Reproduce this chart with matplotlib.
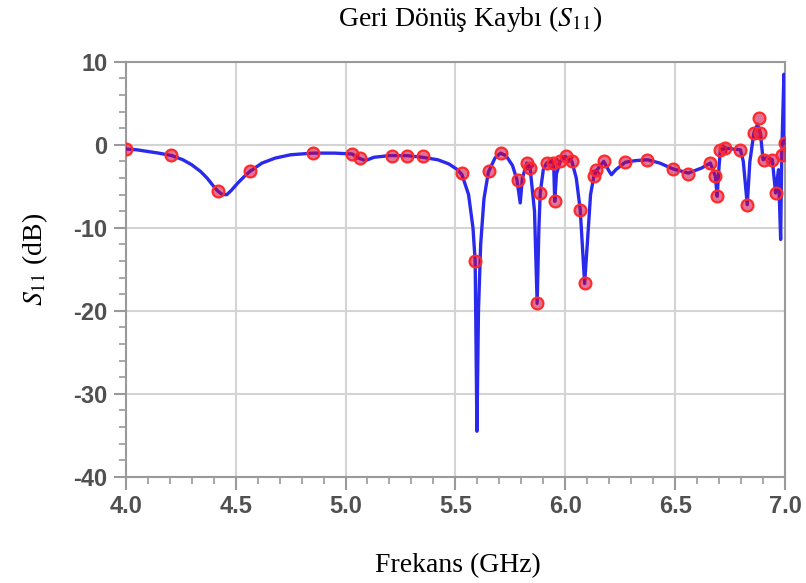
import matplotlib
matplotlib.use("Agg")
import matplotlib.pyplot as plt
from matplotlib.ticker import MultipleLocator, FormatStrFormatter

plt.rcParams["mathtext.fontset"] = "stix"
plt.rcParams["axes.unicode_minus"] = False

# S11 curve (GHz, dB)
line_freq = [4.00, 4.05, 4.10, 4.15, 4.21, 4.26, 4.30, 4.34, 4.37, 4.40,
             4.42, 4.44, 4.46, 4.48, 4.51, 4.54, 4.565, 4.62, 4.68, 4.75,
             4.85, 4.95, 5.03, 5.06, 5.09, 5.13, 5.20, 5.28, 5.35, 5.42,
             5.47, 5.51, 5.53, 5.56, 5.58, 5.59, 5.598, 5.605, 5.615, 5.63,
             5.65, 5.68, 5.705, 5.73, 5.76, 5.78, 5.795, 5.805, 5.825, 5.84,
             5.86, 5.872, 5.88, 5.886, 5.90, 5.915, 5.935, 5.947, 5.952, 5.96,
             5.977, 6.00, 6.03, 6.05, 6.068, 6.088, 6.10, 6.115, 6.13, 6.145,
             6.175, 6.20, 6.21, 6.23, 6.273, 6.32, 6.375, 6.43, 6.49, 6.56,
             6.62, 6.66, 6.683, 6.691, 6.70, 6.706, 6.73, 6.76, 6.797, 6.81,
             6.828, 6.84, 6.858, 6.875, 6.888, 6.90, 6.92, 6.942, 6.957, 6.97,
             6.98, 6.985, 6.995, 7.0]
line_db = [-0.5, -0.6, -0.8, -1.0, -1.3, -1.8, -2.4, -3.2, -4.0, -5.0,
           -5.6, -6.0, -6.0, -5.5, -4.6, -3.8, -3.2, -2.2, -1.6, -1.2,
           -1.0, -1.0, -1.1, -1.6, -1.9, -1.5, -1.3, -1.3, -1.5, -1.8,
           -2.3, -3.0, -3.6, -6.0, -10.0, -14.0, -34.5, -20.0, -12.0, -6.5,
           -3.3, -1.6, -1.0, -1.3, -2.5, -4.2, -7.0, -4.0, -2.2, -2.8,
           -8.0, -19.1, -10.0, -5.8, -3.0, -2.2, -2.0, -2.2, -6.8, -3.5,
           -2.0, -1.4, -2.0, -4.0, -7.8, -16.7, -12.0, -6.0, -3.8, -3.0,
           -2.0, -3.2, -3.6, -3.0, -2.1, -1.9, -1.8, -2.2, -2.9, -3.4,
           -2.8, -2.2, -3.8, -6.2, -2.5, -0.6, -0.4, -0.5, -0.6, -2.0,
           -7.2, -2.0, 1.4, 2.5, 1.4, -1.8, -1.5, -1.8, -5.8, -3.0,
           -11.4, -1.0, 8.5, 0.2]

# sample points shown as red circles
mark_freq = [4.00, 4.208, 4.42, 4.565, 4.853, 5.028, 5.066, 5.21, 5.279, 5.352,
             5.529, 5.59, 5.651, 5.706, 5.785, 5.824, 5.84, 5.873, 5.886, 5.915,
             5.946, 5.952, 5.977, 6.002, 6.03, 6.065, 6.088, 6.129, 6.142, 6.176,
             6.273, 6.372, 6.49, 6.56, 6.66, 6.683, 6.691, 6.706, 6.729, 6.797,
             6.828, 6.858, 6.881, 6.888, 6.904, 6.942, 6.957, 6.987, 6.998]
mark_db = [-0.5, -1.2, -5.6, -3.1, -1.0, -1.1, -1.6, -1.3, -1.3, -1.4,
           -3.4, -14.0, -3.2, -1.0, -4.2, -2.2, -2.8, -19.1, -5.8, -2.2,
           -2.2, -6.8, -2.0, -1.4, -2.0, -7.8, -16.7, -3.8, -3.0, -2.0,
           -2.1, -1.8, -2.9, -3.5, -2.2, -3.8, -6.2, -0.6, -0.4, -0.6,
           -7.2, 1.4, 3.2, 1.4, -1.8, -1.8, -5.8, -1.2, 0.2]

fig = plt.figure(figsize=(8.06, 5.83), dpi=100)
ax = fig.add_axes([0.156, 0.182, 0.818, 0.712])

ax.plot(line_freq, line_db, color="#2a2aee", linewidth=2.4, zorder=3)
ax.plot(mark_freq, mark_db, linestyle="none", marker="o", markersize=8.5,
        markerfacecolor=(0.8, 0.0, 0.25, 0.55), markeredgecolor="#ff2a2a",
        markeredgewidth=1.6, zorder=4)

ax.set_xlim(4.0, 7.0)
ax.set_ylim(-40, 10)
ax.xaxis.set_major_locator(MultipleLocator(0.5))
ax.xaxis.set_minor_locator(MultipleLocator(0.1))
ax.xaxis.set_major_formatter(FormatStrFormatter("%.1f"))
ax.yaxis.set_major_locator(MultipleLocator(10))
ax.yaxis.set_minor_locator(MultipleLocator(2))
ax.grid(True, which="major", color="#d4d4d4", linewidth=1.5)
ax.set_axisbelow(True)

for s in ax.spines.values():
    s.set_color("#9a9a9a")
    s.set_linewidth(1.5)

ax.tick_params(which="major", direction="out", length=9, width=1.5,
               color="#9a9a9a", labelsize=17, labelcolor="#505050", pad=4)
ax.tick_params(which="minor", direction="out", length=5, width=1.2,
               color="#9a9a9a")
for lab in ax.get_xticklabels() + ax.get_yticklabels():
    lab.set_fontfamily("Liberation Sans")
    lab.set_fontweight("bold")

serif = {"family": "Liberation Serif", "size": 20}
fig.text(0.583, 0.968, "Geri Dönüş Kaybı ($S_{11}$)", ha="center", va="center",
         fontdict=serif)
fig.text(0.568, 0.03, "Frekans (GHz)", ha="center", va="center", fontdict=serif)
fig.text(0.043, 0.555, "$S_{11}$ (dB)", ha="center", va="center", rotation=90,
         fontdict=serif)

fig.savefig("out.png", dpi=100, facecolor="white")
